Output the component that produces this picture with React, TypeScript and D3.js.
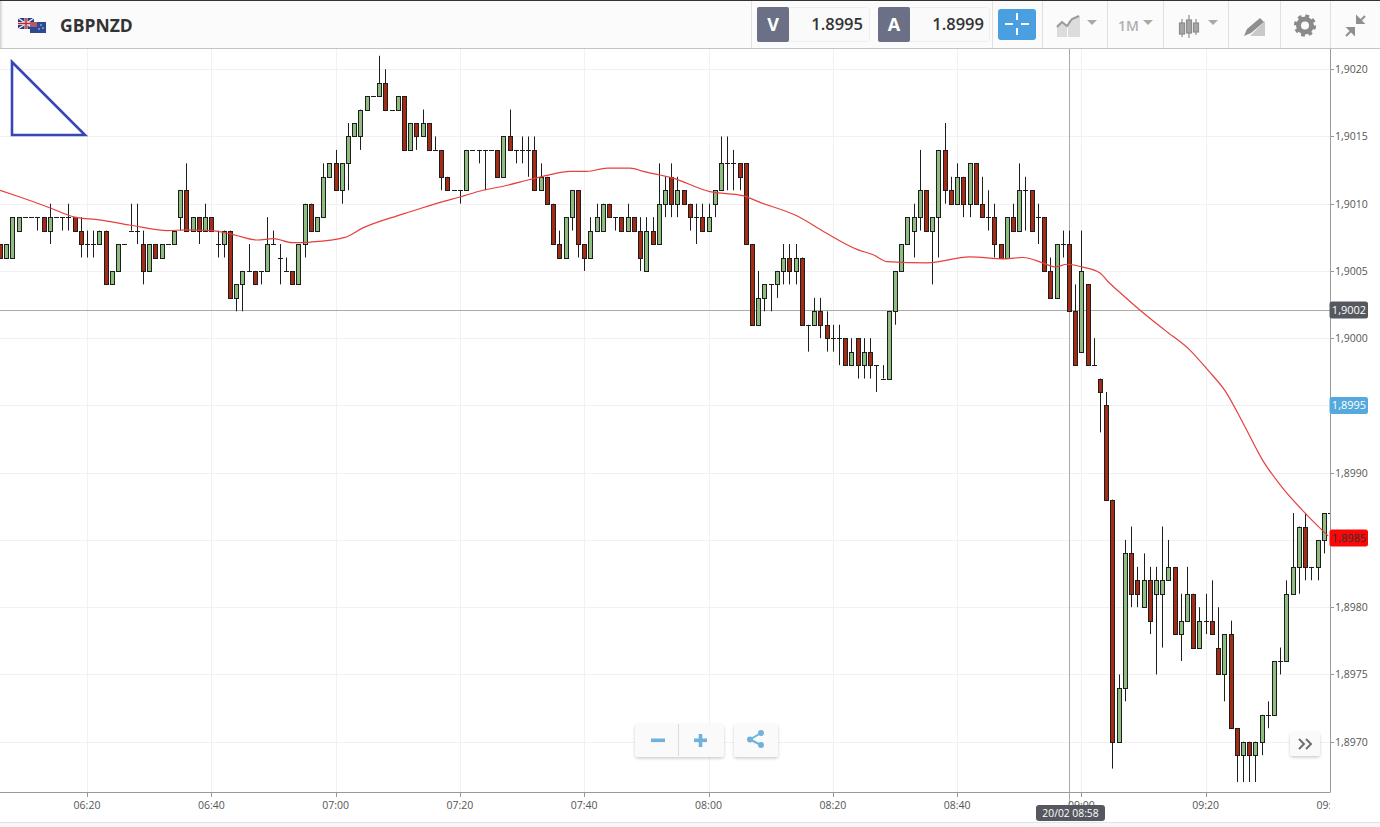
import React from "react";
import * as d3 from "d3";

// All prices are pips relative to 1.9000; one value per minute from 06:06
const opens = [
  7,6,6,8,9,9,9,9,8,9, 9,9,9,8,7,7,7,8,4,5, 7,8,8,7,5,7,6,7,7,9, 11,8,9,8,9,7,7,8,3,4,
  5,5,5,5,7,6,5,5,4,7, 10,8,9,12,13,11,13,15,15,17, 18,18,19,17,17,18,14,16,15,16,
  14,14,12,11,11,11,14,14,14,14, 14,12,15,14,14,14,14,11,12,10, 7,6,9,11,7,6,8,8,10,9,
  9,8,9,8,5,8,7,10,12,10, 11,10,9,9,8,10,11,13,13,13, 13,7,1,3,4,4,5,6,5,6,
  1,1,2,1,0,0,0,-2,0,-2, -1,-2,-3,-3,2,5,7,8,9,11, 8,9,14,11,10,12,10,13,10,9,
  9,7,6,9,8,11,11,9,9,5, 3,7,7,2,-1,4,-2,-3,-5,-12, -30,-26,-16,-18,-20,-18,-19,-19,-18,-17,
  -22,-21,-19,-23,-21,-21,-23,-25,-22,-29, -31,-30,-31,-30,-28,-28,-24,-24,-19,-17, -14,-17,-17,-15,-13,
];
const closes = [
  6,7,9,9,9,9,9,8,9,9, 9,9,8,7,7,7,8,4,5,7, 7,8,8,5,7,6,7,7,8,11, 8,9,8,9,8,7,8,3,4,5,
  5,4,5,7,7,6,5,4,7,10, 8,9,12,13,11,13,15,16,17,18, 18,19,17,17,18,14,16,15,16,14,
  14,12,11,11,11,14,14,14,14,14, 12,15,14,14,14,14,11,12,10,7, 6,9,11,7,6,8,9,10,9,9,
  8,9,8,6,8,7,10,11,10,11, 10,9,9,8,9,11,13,13,13,12, 7,1,3,4,4,5,6,5,6,1,
  1,2,1,0,0,0,-2,-1,-2,-1, -2,-2,-3,2,5,7,9,9,11,8, 9,14,11,10,12,10,13,10,9,9,
  7,6,9,8,11,11,8,9,5,3, 7,7,2,-2,5,-2,-2,-4,-12,-30, -26,-16,-19,-19,-18,-21,-18,-18,-17,-22,
  -21,-19,-23,-21,-21,-22,-25,-22,-29,-31, -30,-31,-30,-28,-28,-24,-24,-19,-17,-14, -17,-17,-15,-13,-13,
];
const highs = [
  7,7,9,9,9,9,9,9,10,9, 9,10,9,9,8,8,8,8,5,7, 7,10,10,8,7,7,7,7,8,11, 13,9,9,10,9,8,8,8,4,5,
  7,5,5,9,8,7,6,5,7,10, 10,9,13,13,14,13,16,16,17,18, 18,21,20,17,18,18,16,16,17,16,
  15,14,12,11,11,14,14,14,14,14, 14,15,17,14,15,15,15,13,12,10, 8,9,11,11,7,9,10,10,10,9,
  9,10,9,9,9,9,13,12,13,12, 11,10,10,10,10,11,15,15,14,13, 13,7,5,4,4,5,7,7,7,6,
  1,3,3,2,1,1,0,0,0,0, 0,-2,-2,2,5,7,9,10,14,11, 9,14,16,12,13,12,13,13,12,11,
  10,7,9,10,13,12,11,10,9,6, 7,8,8,4,8,4,0,-3,-4,-12, -25,-15,-14,-17,-16,-17,-17,-14,-15,-17,
  -19,-17,-19,-20,-19,-18,-20,-22,-21,-29, -30,-30,-30,-28,-27,-24,-23,-18,-13,-14, -13,-17,-15,-13,-13,
];
const lows = [
  6,6,6,8,9,9,8,8,7,9, 8,8,8,6,6,6,7,4,4,5, 7,8,7,4,5,6,6,7,7,8, 8,8,7,8,8,6,6,3,2,2,
  5,4,4,5,7,4,5,4,4,6, 8,8,9,12,11,10,11,15,14,17, 18,18,17,17,17,14,14,14,15,14,
  14,11,11,11,10,11,14,13,11,14, 12,12,14,13,13,12,11,11,10,7, 6,6,8,6,5,6,8,8,9,8,
  8,8,8,5,5,7,7,9,9,9, 10,8,7,8,8,9,11,11,11,11, 7,1,1,2,2,3,4,4,4,1,
  -1,1,0,-1,-1,-2,-2,-2,-3,-3, -3,-4,-3,-3,1,5,7,6,8,8, 4,6,10,10,10,9,9,10,9,8,
  6,6,6,8,8,8,8,7,5,3, 3,6,2,-2,-1,-2,-2,-7,-12,-32, -30,-27,-20,-20,-20,-22,-25,-23,-18,-22,
  -24,-21,-23,-23,-22,-22,-25,-27,-29,-33, -33,-33,-33,-31,-29,-28,-25,-24,-19,-19, -18,-18,-18,-16,-13,
];

// Moving average: minute index and value (pips relative to 1.9000)
const maMinutes = [0,3.2,8,12,16,21,27,30,34,37.5,41.4,44,47,50,55.5,58.4,63.9,66,68,70.8,74,77.7,81,85.3,88,91.7,94.4,97.7,101.4,103.5,108.3,114.2,119.5,122.3,128.2,133,137.9,140.5,142.7,149.2,156,161.7,164.6,167.8,169.8,171.7,174.1,177,178.3,180.2,183.4,187.4,191.5,194.4,197.1,200,203.2,206.3,210.3,213.7];
const maValues = [11,10.5,9.7,9,8.8,8.4,8,8.05,8,7.7,7.3,7.4,7.1,7.15,7.5,8.2,9.1,9.4,9.7,10.1,10.5,11,11.3,11.8,12.1,12.4,12.4,12.65,12.65,12.4,11.9,10.9,10.6,10.1,9.1,7.8,6.6,6.2,5.7,5.6,6.05,5.9,6,5.6,5.3,5.5,5.3,4.85,4.2,3.4,2.1,0.6,-0.9,-2.4,-3.9,-6.3,-9.1,-11.1,-13.15,-14.7];

// 1,8995 and 1,8985 sit under their price badges, which carry the same text
const priceTicks = [20,15,10,5,0,-5,-10,-15,-20,-25,-30];
const priceTickLabels = ["1,9020","1,9015","1,9010","1,9005","1,9000","","1,8990","","1,8980","1,8975","1,8970"];
const timeTicks = [14,34,54,74,94,114,134,154,174,194,214];
const timeTickLabels = ["06:20","06:40","07:00","07:20","07:40","08:00","08:20","08:40","09:00","09:20","09:40"];

const crossPrice = 2.1;
const crossMinute = 172;
const bidPrice = -5;
const lastPrice = -14.85;

const PLOT_R = 1330;
const PLOT_T = 49;
const PLOT_B = 792;
const FONT = "'Open Sans', sans-serif";

const x = d3.scaleLinear().domain([0, 214]).range([0, 1330]);
const y = d3.scaleLinear().domain([-30, 20]).range([741.7, 69.2]);
const maPath = d3
  .line<number>()
  .x((_, i) => x(maMinutes[i]))
  .y((d) => y(d))
  .curve(d3.curveMonotoneX)(maValues) as string;

const UP = "#8fbc80";
const DOWN = "#a52c14";
const INK = "#1e1e1e";

function Badge({ cy, fill, color, label }: { cy: number; fill: string; color: string; label: string }) {
  return (
    <g>
      <rect x={1329.5} y={cy - 8.5} width={38.5} height={17} rx={2.5} fill={fill} />
      <text x={1349} y={cy + 4} fontSize={11} fontFamily={FONT} fill={color} textAnchor="middle">{label}</text>
    </g>
  );
}

function Caret({ cx }: { cx: number }) {
  return <path d={`M${cx - 5},20 h10 l-5,5 z`} fill="#a9a9a9" />;
}

function FloatBtn({ x0, y0, w, h }: { x0: number; y0: number; w: number; h: number }) {
  return <rect x={x0} y={y0} width={w} height={h} rx={3} fill="#fafafa" filter="url(#btnShadow)" />;
}

export default function App() {
  const crossY = Math.round(y(crossPrice)) + 0.5;
  const crossX = Math.round(x(crossMinute)) + 0.5;
  return (
    <svg width={1380} height={827} style={{ position: "fixed", left: 0, top: 0, background: "#fff" }}>
      <defs>
        <clipPath id="plot"><rect x={0} y={PLOT_T} width={PLOT_R} height={PLOT_B - PLOT_T} /></clipPath>
        <clipPath id="timeAxis"><rect x={0} y={PLOT_B} width={PLOT_R} height={30} /></clipPath>
        <filter id="btnShadow" x="-20%" y="-20%" width="140%" height="150%">
          <feDropShadow dx={0} dy={1.5} stdDeviation={1.5} floodColor="#000" floodOpacity={0.2} />
        </filter>
        <linearGradient id="edgeShade" x1="0" x2="1" y1="0" y2="0">
          <stop offset="0" stopColor="#cfcfcf" />
          <stop offset="1" stopColor="#fbfbfb" />
        </linearGradient>
      </defs>

      {/* grid */}
      {priceTicks.map((p) => (
        <line key={p} x1={0} x2={PLOT_R} y1={Math.round(y(p)) + 0.5} y2={Math.round(y(p)) + 0.5} stroke="#f1f1f1" />
      ))}
      {timeTicks.map((t) => (
        <line key={t} x1={Math.round(x(t)) + 0.5} x2={Math.round(x(t)) + 0.5} y1={PLOT_T} y2={PLOT_B} stroke="#f1f1f1" />
      ))}

      {/* crosshair */}
      <line x1={0} x2={PLOT_R} y1={crossY} y2={crossY} stroke="#aaa" />
      <line x1={crossX} x2={crossX} y1={PLOT_T} y2={PLOT_B + 12} stroke="#aaa" />

      {/* candles */}
      <g clipPath="url(#plot)">
        {opens.map((o, i) => {
          const c = closes[i];
          const cx = Math.round(x(i)) + 0.5;
          const top = Math.round(y(Math.max(o, c))) + 0.5;
          const bot = Math.round(y(Math.min(o, c))) + 0.5;
          return (
            <g key={i}>
              {highs[i] !== lows[i] && (
                <line x1={cx} x2={cx} y1={y(highs[i])} y2={y(lows[i])} stroke={INK} strokeWidth={1} />
              )}
              {o === c ? (
                <line x1={cx - 2.5} x2={cx + 2.5} y1={top} y2={top} stroke={INK} strokeWidth={1} />
              ) : (
                <rect x={cx - 2} y={top} width={4} height={bot - top} fill={c > o ? UP : DOWN} stroke={INK} strokeWidth={1} />
              )}
            </g>
          );
        })}
        <path d={maPath} fill="none" stroke="#e5403e" strokeWidth={1.2} />
      </g>

      {/* drawn triangle */}
      <path d={d3.line()([[12, 62], [12, 135], [85, 135]]) + "Z"} fill="none" stroke="#3a46b8" strokeWidth={2.6} />

      {/* axes */}
      <line x1={0} x2={PLOT_R + 0.5} y1={PLOT_B + 0.5} y2={PLOT_B + 0.5} stroke="#999" />
      <line x1={PLOT_R + 0.5} x2={PLOT_R + 0.5} y1={PLOT_T} y2={PLOT_B} stroke="#999" />
      {priceTicks.map((p, i) => (
        <g key={p}>
          <line x1={PLOT_R} x2={PLOT_R + 4} y1={Math.round(y(p)) + 0.5} y2={Math.round(y(p)) + 0.5} stroke="#999" />
          {priceTickLabels[i] && (
            <text x={1335} y={y(p) + 4} fontSize={10.5} fontFamily={FONT} fill="#555">{priceTickLabels[i]}</text>
          )}
        </g>
      ))}
      <g clipPath="url(#timeAxis)">
        {timeTicks.map((t, i) => (
          <g key={t}>
            <line x1={Math.round(x(t)) + 0.5} x2={Math.round(x(t)) + 0.5} y1={PLOT_B} y2={PLOT_B + 5} stroke="#999" />
            <text x={x(t)} y={809} fontSize={10.5} fontFamily={FONT} fill="#555" textAnchor="middle">{timeTickLabels[i]}</text>
          </g>
        ))}
      </g>

      {/* price badges */}
      <Badge cy={y(crossPrice)} fill="#55585f" color="#fff" label="1,9002" />
      <Badge cy={y(bidPrice)} fill="#55a9dc" color="#fff" label="1,8995" />
      <Badge cy={y(lastPrice)} fill="#f80808" color="#333" label="1,8985" />

      {/* crosshair time tag */}
      <rect x={1036} y={805} width={69} height={16} rx={3} fill="#55585f" />
      <text x={1070.5} y={817} fontSize={10.3} fontFamily={FONT} fill="#fff" textAnchor="middle">20/02 08:58</text>

      {/* zoom + share buttons */}
      <FloatBtn x0={635} y0={724} w={89} h={33} />
      <line x1={678.5} x2={678.5} y1={724} y2={756} stroke="#ddd" />
      <rect x={651} y={738.5} width={14} height={3.6} fill="#6fb2db" />
      <rect x={694} y={738.5} width={13} height={3.6} fill="#6fb2db" />
      <rect x={698.7} y={734} width={3.6} height={13} fill="#6fb2db" />
      <FloatBtn x0={734} y0={724} w={44} h={33} />
      <g stroke="#6fb2db" strokeWidth={2} fill="#6fb2db">
        <line x1={750} y1={739.5} x2={761} y2={733} />
        <line x1={750} y1={739.5} x2={761} y2={745} />
        <circle cx={750} cy={739.5} r={3} stroke="none" />
        <circle cx={761} cy={733} r={3} stroke="none" />
        <circle cx={761} cy={745} r={3} stroke="none" />
      </g>
      <FloatBtn x0={1290} y0={732} w={30} h={24} />
      <path d="M1299,739 l5,5 l-5,5 M1306,739 l5,5 l-5,5" fill="none" stroke="#707070" strokeWidth={2} />

      {/* footer */}
      <rect x={0} y={822} width={1380} height={5} fill="#f7f7f7" />
      <line x1={0} x2={1380} y1={822.5} y2={822.5} stroke="#e2e2e2" />

      {/* header */}
      <rect x={0} y={0} width={1380} height={48} fill="#fbfbfb" />
      <rect x={0} y={0} width={3} height={48} fill="url(#edgeShade)" />
      <rect x={0} y={0} width={1380} height={1} fill="#333" />
      <rect x={0} y={48} width={1380} height={1} fill="#c4c4c4" />

      {/* flags */}
      <g>
        <rect x={18} y={18} width={16} height={11} fill="#2b3a7e" />
        <path d="M18,18 L34,29 M34,18 L18,29" stroke="#eee" strokeWidth={1.5} />
        <path d="M26,18 V29 M18,23.5 H34" stroke="#eee" strokeWidth={3} />
        <path d="M26,18 V29 M18,23.5 H34" stroke="#c8262e" strokeWidth={1.5} />
        <rect x={30} y={22} width={16} height={11} fill="#2c4a94" />
        <rect x={30} y={22} width={7} height={5} fill="#b25a6c" />
        <circle cx={41} cy={25} r={0.8} fill="#ddd" />
        <circle cx={43} cy={28} r={0.8} fill="#ddd" />
        <circle cx={39} cy={29} r={0.8} fill="#ddd" />
      </g>
      <text x={60} y={32} fontSize={17.5} fontWeight={700} fontFamily={FONT} fill="#333">GBPNZD</text>

      {/* toolbar separators */}
      {[751.5, 992.5, 1042.5, 1107.5, 1163.5, 1228.5, 1280.5, 1330.5].map((sx) => (
        <line key={sx} x1={sx} x2={sx} y1={1} y2={48} stroke="#e0e0e0" />
      ))}

      {/* bid / ask */}
      <rect x={757.5} y={7.5} width={112} height={34} rx={3} fill="#fafafa" stroke="#eee" />
      <rect x={757} y={7} width={32} height={35} rx={2} fill="#6b7086" />
      <text x={773} y={31} fontSize={18} fontWeight={700} fontFamily={FONT} fill="#fff" textAnchor="middle">V</text>
      <text x={863} y={30} fontSize={16.5} fontWeight={600} fontFamily={FONT} fill="#333" textAnchor="end">1.8995</text>
      <rect x={878.5} y={7.5} width={111} height={34} rx={3} fill="#fafafa" stroke="#eee" />
      <rect x={878} y={7} width={32} height={35} rx={2} fill="#6b7086" />
      <text x={894} y={31} fontSize={18} fontWeight={700} fontFamily={FONT} fill="#fff" textAnchor="middle">A</text>
      <text x={984} y={30} fontSize={16.5} fontWeight={600} fontFamily={FONT} fill="#333" textAnchor="end">1.8999</text>

      {/* crosshair toggle */}
      <rect x={998} y={9} width={38} height={31} rx={3} fill="#4a9fe0" />
      <path d="M1017,13 v7 M1017,28 v7 M1005,24 h8 M1021,24 h8" stroke="#fff" strokeWidth={2} fill="none" />

      {/* chart type icon */}
      <path d="M1057,37 V25 l5,-4 l5,4 V37 Z" fill="#dcdcdc" />
      <path d="M1068,37 V21 l5,-2 l7,-3 V37 Z" fill="#dcdcdc" />
      <path d="M1057,27 l5,-5 l5,4 l5,-7 l7,-3" fill="none" stroke="#9a9a9a" strokeWidth={2} />
      <Caret cx={1092} />

      {/* timeframe */}
      <text x={1118} y={31} fontSize={14} fontWeight={600} fontFamily={FONT} fill="#b0b0b0">1M</text>
      <Caret cx={1148} />

      {/* candle icon */}
      <g stroke="#8d8d8d" strokeWidth={1.2} fill="#a5a5a5">
        <line x1={1182} x2={1182} y1={19} y2={37} />
        <rect x={1179.5} y={23} width={5} height={11} />
        <line x1={1189} x2={1189} y1={15} y2={38} />
        <rect x={1186.5} y={20} width={5} height={13} />
        <line x1={1196} x2={1196} y1={19} y2={35} />
        <rect x={1193.5} y={23} width={5} height={9} />
      </g>
      <Caret cx={1213} />

      {/* drawing icon */}
      <path d="M1250,36 h15 v-15 Z" fill="#c9c9c9" />
      <path d="M1244,36 l3,-7 l13,-11 l4,4 l-13,11 Z" fill="#8f8f8f" />

      {/* settings */}
      <circle cx={1305} cy={25.5} r={6.5} fill="none" stroke="#8a8a8a" strokeWidth={5} />
      <circle cx={1305} cy={25.5} r={9.6} fill="none" stroke="#8a8a8a" strokeWidth={3} strokeDasharray="3.8 3.74" />

      {/* collapse */}
      <path d="M1346,36 l7,-7 M1348,28 h6 v6 Z" stroke="#8f8f8f" strokeWidth={2} fill="#8f8f8f" />
      <path d="M1365,16 l-7,7 M1363,23 h-6 v-6 Z" stroke="#8f8f8f" strokeWidth={2} fill="#8f8f8f" />
    </svg>
  );
}
